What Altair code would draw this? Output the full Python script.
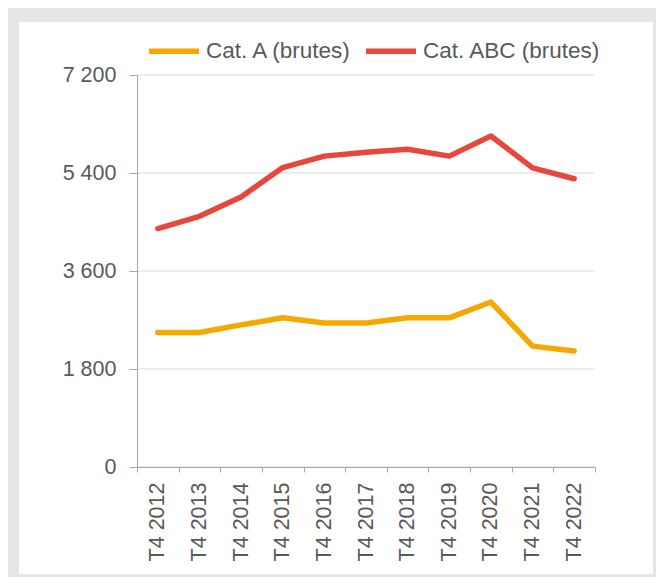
import altair as alt
import pandas as pd

periods = ["T4 2012", "T4 2013", "T4 2014", "T4 2015", "T4 2016", "T4 2017",
           "T4 2018", "T4 2019", "T4 2020", "T4 2021", "T4 2022"]
cat_a = [2470, 2470, 2610, 2740, 2645, 2645, 2740, 2740, 3030, 2220, 2130]
cat_abc = [4380, 4605, 4960, 5500, 5710, 5780, 5835, 5710, 6080, 5495, 5295]
series_names = ["Cat. A (brutes)", "Cat. ABC (brutes)"]
series_colors = ["#F7A800", "#E8473C"]
y_ticks = [0, 1800, 3600, 5400, 7200]

rows = []
for name, vals in zip(series_names, [cat_a, cat_abc]):
    for p, v in zip(periods, vals):
        rows.append({"period": p, "value": v, "series": name})
df = pd.DataFrame(rows)

W, H = 458, 392
font = "Liberation Sans"
txt = "#595959"
axis_col = "#a6a6a6"

bg = alt.Chart(alt.Data(values=[{"a": 1}])).mark_rect(color="white").encode(
    x=alt.value(-118), x2=alt.value(516), y=alt.value(-53), y2=alt.value(499)
)

grid = alt.Chart(pd.DataFrame({"t": y_ticks})).mark_rule(
    color="#d9d9d9", strokeWidth=1
).encode(y=alt.Y("t:Q", scale=alt.Scale(domain=[0, 7200], nice=False)))

lines = alt.Chart(df).mark_line(strokeWidth=5.5, strokeCap="round", strokeJoin="round").encode(
    x=alt.X("period:N", sort=periods, bandPosition=0.5,
            scale=alt.Scale(type="band", paddingInner=0, paddingOuter=0),
            axis=alt.Axis(title=None, labelAngle=-90, tickBand="extent", tickSize=5,
                          labelPadding=10, labelFontSize=21.5, labelColor=txt,
                          domainColor=axis_col, tickColor=axis_col, grid=False,
                          zindex=1, labelFont=font)),
    y=alt.Y("value:Q", scale=alt.Scale(domain=[0, 7200], nice=False),
            axis=alt.Axis(title=None, values=y_ticks, tickSize=8, labelPadding=13,
                          labelFontSize=21.5, labelColor=txt, domainColor=axis_col,
                          tickColor=axis_col, grid=False, zindex=1, labelFont=font,
                          labelExpr="replace(format(datum.value, ','), ',', ' ')")),
    color=alt.Color("series:N", sort=series_names,
                    scale=alt.Scale(domain=series_names, range=series_colors),
                    legend=alt.Legend(title=None, orient="none", direction="horizontal",
                                      legendX=9, legendY=-52, symbolType="stroke",
                                      symbolSize=2500, symbolStrokeWidth=5.5,
                                      labelFontSize=22.5, labelColor=txt, labelFont=font,
                                      labelOffset=4, columnPadding=2, labelLimit=400)),
)

chart = alt.layer(bg, grid, lines).properties(
    width=W, height=H,
    autosize=alt.AutoSizeParams(type="none"),
    padding={"left": 129, "top": 67, "right": 61, "bottom": 110},
    background="#e6e6e6",
).configure_view(stroke=None).configure(font=font)

chart.save("out.html", embed_options={"renderer": "svg", "actions": False})
